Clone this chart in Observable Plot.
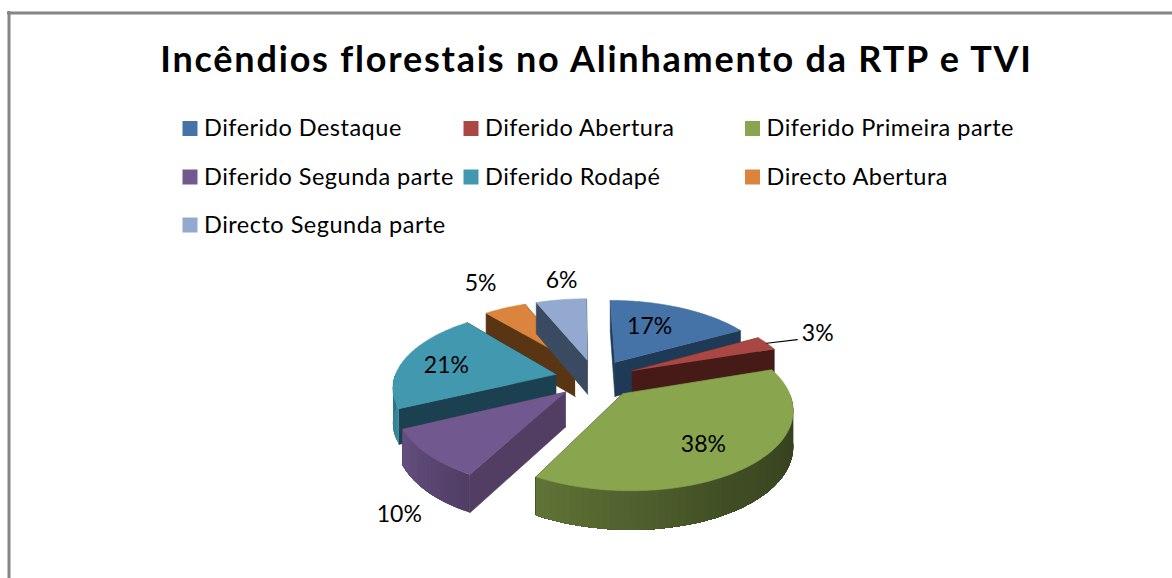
<!DOCTYPE html>
<html>
<head>
<meta charset="utf-8">
<script src="https://cdn.jsdelivr.net/npm/d3@7"></script>
<script src="https://cdn.jsdelivr.net/npm/@observablehq/plot@0.6"></script>
<style>
body{margin:0;background:#fff}svg{display:block}
g[font-size="36"]{letter-spacing:1.8px}
g[font-size="23.5"]{letter-spacing:0.5px}
</style>
</head>
<body>
<div id="chart"></div>
<script>
const title = "Incêndios florestais no Alinhamento da RTP e TVI";
const categories = ["Diferido Destaque","Diferido Abertura","Diferido Primeira parte","Diferido Segunda parte","Diferido Rodapé","Directo Abertura","Directo Segunda parte"];
const values = [17,3,38,10,21,5,6];
const colors = ["#4572A7","#AA4643","#89A54E","#71588F","#4198AF","#DB843D","#93A9CF"];
const wallColors = ["#1F3A56","#451A17","#3A4820","#513E62","#1B4150","#5A3514","#3A4A60"];

// pie camera model
const cx = 595, cy = 378, Rx = 162, Ry = 76.5, k = 0.157, shear = 2.5, depth = 34.5, explode = 0.25;
const rad = d => d * Math.PI / 180;
const project = (X, Y, drop = 0) => {
  const s = 1 / (1 + k * Y);
  return {x: cx + Rx * X * s - shear * Y * s, y: cy - Ry * Y * s + drop * depth * Math.pow(s, 0.6)};
};
const labelProject = (r, d) => {
  const X = r * Math.sin(rad(d)), Y = r * Math.cos(rad(d)), s = 1 / (1 + k * Y);
  return {x: 590 + 165 * X * s, y: cy - Ry * Y * s};
};

// legend and label layout
const legendCols = [189.5, 470.5, 752], legendRows = [128, 176.5, 224.5], legendGap = 15;
const labelPlace = [[0.861,27.8],[1.649,66.9],[0.97,141.6],[1.659,213.1],[0.914,281],[1.751,331.8],[1.618,352.2]];

const total = d3.sum(values);
let acc = 0;
const slices = values.map((v, i) => {
  const a0 = acc / total * 360; acc += v; const a1 = acc / total * 360;
  const mid = rad((a0 + a1) / 2);
  return {i, a0, a1, ox: explode * Math.sin(mid), oy: explode * Math.cos(mid)};
});
const rim = (s, a, drop = 0) => project(s.ox + Math.sin(rad(a)), s.oy + Math.cos(rad(a)), drop);
const shade = d3.scaleLinear().domain([90,150,208,245,270]).range([0.37,0.47,0.7,0.9,0.75]);
const poly = (pts, color) => Plot.line(pts, {x: "x", y: "y", fill: color, stroke: color, strokeWidth: 0.6});

const sliceMarks = s => {
  const color = colors[s.i], wall = wallColors[s.i], out = [];
  const apexT = project(s.ox, s.oy), apexB = project(s.ox, s.oy, 1);
  // radial walls, farther one first
  const walls = [s.a0, s.a1].sort((p, q) => Math.cos(rad(q)) - Math.cos(rad(p)));
  for (const a of walls) out.push(poly([apexT, rim(s, a), rim(s, a, 1), apexB], wall));
  // outer wall on the near half: overlapping bands painted from the far end of the arc
  const from = Math.max(s.a0, 90), to = Math.min(s.a1, 270);
  const rgb = d3.rgb(color);
  for (let a = from; a < to; a += 2) {
    const f = shade(Math.min(a + 1, to));
    const c = d3.rgb(rgb.r * f, rgb.g * f, rgb.b * f).formatHex();
    const arc = d3.range(a, to, 2).concat(to);
    out.push(Plot.line([...arc.map(t => rim(s, t)), ...arc.reverse().map(t => rim(s, t, 1))],
      {x: "x", y: "y", fill: c, stroke: "none"}));
  }
  // top face
  out.push(poly([apexT, ...d3.range(s.a0, s.a1, 1).map(a => rim(s, a)), rim(s, s.a1)], color));
  return out;
};
const paintOrder = [5,6,0,1,4,3,2];

const labels = values.map((v, i) => ({text: v + "%", ...labelProject(...labelPlace[i])}));
const redMid = (slices[1].a0 + slices[1].a1) / 2;
const leader = [rim(slices[1], redMid), labelProject(1.47, 67.9)];
const legend = categories.map((name, i) => ({name, i, x: legendCols[i % 3], y: legendRows[Math.floor(i / 3)]}));

const font = "Lato, 'Open Sans', sans-serif";
const plot = Plot.plot({
  width: 1172, height: 578, margin: 0,
  x: {domain: [0, 1172], range: [0, 1172], axis: null},
  y: {domain: [0, 578], range: [0, 578], axis: null},
  style: {background: "#fff", fontFamily: font},
  marks: [
    Plot.ruleX([8.5], {y1: 11, y2: 578, stroke: "#868686", strokeWidth: 3}),
    Plot.ruleY([12.5], {x1: 7, x2: 1172, stroke: "#868686", strokeWidth: 3}),
    Plot.text([title], {x: 596, y: 60, text: d => d, fontSize: 36, fontWeight: 700, fill: "#000", lineAnchor: "middle"}),
    Plot.dot(legend, {x: "x", y: "y", symbol: "square", r: legendGap / Math.sqrt(Math.PI), fill: d => colors[d.i], stroke: "none"}),
    Plot.text(legend, {x: d => d.x + legendGap - 1, y: "y", text: "name", textAnchor: "start", fontSize: 23.5, fill: "#000", lineAnchor: "middle"}),
    ...paintOrder.flatMap(i => sliceMarks(slices[i])),
    Plot.line(leader, {x: "x", y: "y", stroke: "#000", strokeWidth: 1.2}),
    Plot.text(labels, {x: "x", y: "y", text: "text", fontSize: 23, fill: "#000", lineAnchor: "middle"})
  ]
});
document.getElementById("chart").append(plot);
</script>
</body>
</html>
